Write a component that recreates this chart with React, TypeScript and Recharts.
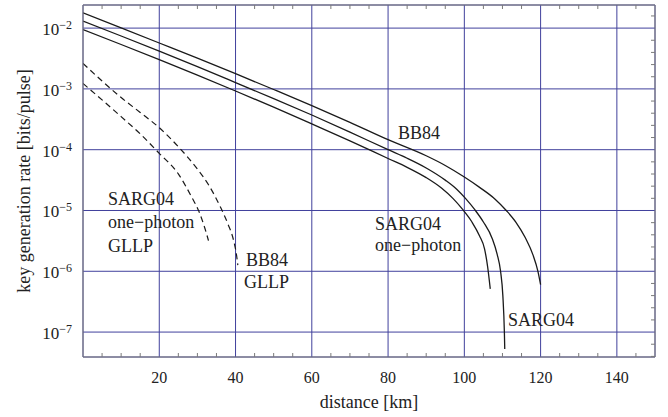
import {
  LineChart,
  Line,
  XAxis,
  YAxis,
  CartesianGrid,
  ReferenceLine,
} from 'recharts';

// distance [km] and key rate [bits/pulse]
const bb84Km = [0, 10, 20, 30, 40, 50, 60, 70, 80, 90, 95, 100, 104, 108, 111, 113.5, 116, 118, 119.3, 120];
const bb84Rate = [
  1.79e-2, 1.01e-2, 5.69e-3, 3.2e-3, 1.78e-3, 9.77e-4, 5.31e-4, 2.82e-4, 1.46e-4, 7.94e-5,
  5.5e-5, 3.55e-5, 2.4e-5, 1.55e-5, 1e-5, 6.46e-6, 3.55e-6, 1.86e-6, 1e-6, 6.03e-7,
];

const sargKm = [0, 10, 20, 30, 40, 50, 60, 70, 80, 85, 90, 95, 98, 100.3, 102.9, 105, 107.3, 108.6, 109.5, 110.1, 110.5, 110.6];
const sargRate = [
  1.3e-2, 7.41e-3, 4.17e-3, 2.32e-3, 1.27e-3, 6.92e-4, 3.72e-4, 1.95e-4, 1.0e-4, 7.24e-5,
  5.01e-5, 3.16e-5, 2.24e-5, 1.58e-5, 1e-5, 6.46e-6, 3.47e-6, 1.91e-6, 1e-6, 3.98e-7, 1e-7,
  5.25e-8,
];

const sargOneKm = [0, 10, 20, 30, 40, 50, 60, 70, 80, 85, 90, 94, 97, 99.5, 102, 104, 105.3, 106.1, 106.8];
const sargOneRate = [
  9.44e-3, 5.37e-3, 3.02e-3, 1.68e-3, 9.23e-4, 5.01e-4, 2.66e-4, 1.4e-4, 7.16e-5, 5.13e-5,
  3.47e-5, 2.34e-5, 1.58e-5, 1.05e-5, 6.46e-6, 3.8e-6, 2.34e-6, 1.2e-6, 5.13e-7,
];

const bb84GllpKm = [0, 5, 10, 15, 20, 25, 30, 33, 36, 38, 39.5, 40.3, 40.6];
const bb84GllpRate = [
  2.63e-3, 1.35e-3, 7.2e-4, 4.1e-4, 2.3e-4, 1.12e-4, 4.8e-5, 2.6e-5, 1.15e-5, 6.0e-6, 3.2e-6,
  1.78e-6, 1.26e-6,
];

const sargGllpKm = [0, 5, 10, 15, 20, 25, 28.5, 30.3, 32, 32.9];
const sargGllpRate = [1.23e-3, 6.6e-4, 3.5e-4, 1.82e-4, 8.7e-5, 4.0e-5, 1.66e-5, 1e-5, 5.0e-6, 3.2e-6];

const xTicks = [20, 40, 60, 80, 100, 120, 140];
const yTicks = [1e-7, 1e-6, 1e-5, 1e-4, 1e-3, 1e-2];

const X_MAX = 150;
const Y_MIN = Math.pow(10, -7.41);
const Y_MAX = Math.pow(10, -1.62);

const W = 668;
const H = 417;
const margin = { top: 5, right: 13, bottom: 0, left: 0 };
const Y_AXIS_W = 83;
const X_AXIS_H = 60;
const plotW = W - margin.right - Y_AXIS_W;
const plotH = H - margin.top - X_AXIS_H;
const decades = Math.log10(Y_MAX / Y_MIN);

const FONT = 'Liberation Serif, DejaVu Serif, serif';
const FRAME = '#7a7a7a';
const GRID = '#40409c';
const INK = '#1a1a1a';

const zip = (km: number[], rate: number[]) => km.map((d, i) => ({ d, r: rate[i] }));

// minor frame ticks, every 5 km and every 0.2 decade
const TICK_PX = 4;
const tickKm = (TICK_PX * X_MAX) / plotW;
const tickFactor = Math.pow(10, (TICK_PX * decades) / plotH);
const minorX: number[] = [];
for (let v = 5; v < X_MAX; v += 5) if (v % 20 !== 0) minorX.push(v);
const minorY: number[] = [];
for (let k = -74; k <= -17; k += 2) if (k % 10 !== 0) minorY.push(Math.pow(10, k / 10));

const YTick = ({ y, payload }: any) => {
  const e = Math.round(Math.log10(payload.value));
  return (
    <text x={Y_AXIS_W - 11} y={y + 7} textAnchor='end' fontSize={17} fontFamily={FONT} fill='#222'>
      <tspan>10</tspan>
      <tspan dy={-6} fontSize={12}>
        {'\u2212' + Math.abs(e)}
      </tspan>
    </text>
  );
};

const XTick = ({ x, y, payload }: any) => (
  <text x={x} y={y + 26} textAnchor='middle' fontSize={16} fontFamily={FONT} fill='#222'>
    {payload.value}
  </text>
);

const labelStyle = { fontSize: 18, fontFamily: FONT, fill: '#222' };

const App = () => {
  return (
    <div style={{ position: 'absolute', left: 0, top: 0, background: '#fff' }}>
      <LineChart width={W} height={H} margin={margin}>
        <CartesianGrid stroke={GRID} strokeWidth={1} />
        <XAxis
          dataKey='d'
          type='number'
          domain={[0, X_MAX]}
          ticks={xTicks}
          allowDataOverflow
          height={X_AXIS_H}
          tickSize={0}
          tickMargin={0}
          tick={<XTick />}
          axisLine={{ stroke: FRAME }}
        />
        <YAxis
          type='number'
          scale='log'
          domain={[Y_MIN, Y_MAX]}
          ticks={yTicks}
          allowDataOverflow
          width={Y_AXIS_W}
          tickSize={0}
          tickMargin={10}
          tick={<YTick />}
          axisLine={{ stroke: FRAME }}
        />
        <ReferenceLine y={Y_MAX} stroke={FRAME} />
        <ReferenceLine x={X_MAX} stroke={FRAME} />
        {minorX.map((v) => (
          <ReferenceLine
            key={'b' + v}
            segment={[
              { x: v, y: Y_MIN },
              { x: v, y: Y_MIN * tickFactor },
            ]}
            stroke={FRAME}
          />
        ))}
        {minorX.map((v) => (
          <ReferenceLine
            key={'t' + v}
            segment={[
              { x: v, y: Y_MAX },
              { x: v, y: Y_MAX / tickFactor },
            ]}
            stroke={FRAME}
          />
        ))}
        {minorY.map((v) => (
          <ReferenceLine
            key={'r' + v}
            segment={[
              { x: X_MAX, y: v },
              { x: X_MAX - tickKm, y: v },
            ]}
            stroke={FRAME}
          />
        ))}
        <Line data={zip(bb84Km, bb84Rate)} dataKey='r' type='monotone' stroke={INK} strokeWidth={1.3} dot={false} isAnimationActive={false} />
        <Line data={zip(sargKm, sargRate)} dataKey='r' type='monotone' stroke={INK} strokeWidth={1.3} dot={false} isAnimationActive={false} />
        <Line data={zip(sargOneKm, sargOneRate)} dataKey='r' type='monotone' stroke={INK} strokeWidth={1.3} dot={false} isAnimationActive={false} />
        <Line data={zip(bb84GllpKm, bb84GllpRate)} dataKey='r' type='monotone' stroke={INK} strokeWidth={1.2} strokeDasharray='6 4' dot={false} isAnimationActive={false} />
        <Line data={zip(sargGllpKm, sargGllpRate)} dataKey='r' type='monotone' stroke={INK} strokeWidth={1.2} strokeDasharray='6 4' dot={false} isAnimationActive={false} />

        <text x={398} y={139} {...labelStyle}>BB84</text>
        <text x={375} y={230} {...labelStyle}>SARG04</text>
        <text x={375} y={251} {...labelStyle}>one{'\u2212'}photon</text>
        <text x={508} y={326} {...labelStyle}>SARG04</text>
        <text x={108} y={205} {...labelStyle}>SARG04</text>
        <text x={108} y={228} {...labelStyle}>one{'\u2212'}photon</text>
        <text x={108} y={252} {...labelStyle}>GLLP</text>
        <text x={246} y={266} {...labelStyle}>BB84</text>
        <text x={244} y={288} {...labelStyle}>GLLP</text>

        <text x={369} y={408} textAnchor='middle' fontSize={18} fontFamily={FONT} fill='#222'>
          distance [km]
        </text>
        <text
          x={24}
          y={181}
          textAnchor='middle'
          dominantBaseline='central'
          fontSize={18}
          fontFamily={FONT}
          fill='#222'
          transform='rotate(-90 24 181)'
        >
          key generation rate [bits/pulse]
        </text>
      </LineChart>
    </div>
  );
};

export default App;
